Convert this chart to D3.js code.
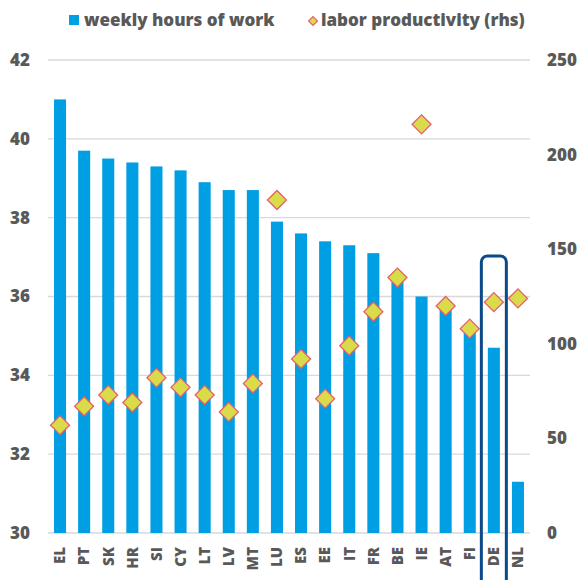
<!DOCTYPE html>
<meta charset="utf-8">
<div id="chart"></div>
<style>
  body { margin: 0; background: #fff; }
</style>
<script src="https://d3js.org/d3.v7.min.js"></script>
<script>

var countries = ["EL","PT","SK","HR","SI","CY","LT","LV","MT","LU","ES","EE","IT","FR","BE","IE","AT","FI","DE","NL"];
var hours = [41.0, 39.7, 39.5, 39.4, 39.3, 39.2, 38.9, 38.7, 38.7, 37.9, 37.6, 37.4, 37.3, 37.1, 36.4, 36.0, 35.8, 35.1, 34.7, 31.3];
var productivity = [57, 67, 73, 69, 82, 77, 73, 64, 79, 176, 92, 71, 99, 117, 135, 216, 120, 108, 122, 124];
var leftTicks = [30, 32, 34, 36, 38, 40, 42];
var rightTicks = [0, 50, 100, 150, 200, 250];
var highlight = "DE";

var width = 581, height = 580;
var svg = d3.select("#chart").append("svg")
    .attr("width", width)
    .attr("height", height);

// shared text style
function label(sel, size) {
  return sel
    .style("font-family", "'Open Sans'")
    .style("font-weight", "800")
    .attr("font-size", size)
    .attr("fill", "#595959");
}

var x = d3.scaleBand()
    .domain(countries)
    .range([48, 530])
    .paddingInner(0.5)
    .paddingOuter(0.25);

var y = d3.scaleLinear().domain([30, 42]).range([533, 60]);
var y2 = d3.scaleLinear().domain([0, 250]).range([533, 60]);

// gridlines
svg.append("g")
  .selectAll("line")
  .data(leftTicks)
  .enter().append("line")
    .attr("x1", 48)
    .attr("x2", 530)
    .attr("y1", function(d) { return y(d); })
    .attr("y2", function(d) { return y(d); })
    .attr("stroke", "#d9d9d9")
    .attr("stroke-width", 1.3);

// left axis labels
svg.append("g")
  .selectAll("text")
  .data(leftTicks)
  .enter().append("text")
    .attr("x", 30)
    .attr("y", function(d) { return y(d); })
    .attr("dy", "0.35em")
    .attr("text-anchor", "end")
    .call(label, 17)
    .text(function(d) { return d; });

// right axis labels
svg.append("g")
  .selectAll("text")
  .data(rightTicks)
  .enter().append("text")
    .attr("x", 547)
    .attr("y", function(d) { return y2(d); })
    .attr("dy", "0.35em")
    .attr("text-anchor", "start")
    .call(label, 17)
    .text(function(d) { return d; });

// bars
svg.append("g")
  .selectAll("rect")
  .data(countries)
  .enter().append("rect")
    .attr("x", function(d) { return x(d); })
    .attr("width", x.bandwidth())
    .attr("y", function(d, i) { return y(hours[i]); })
    .attr("height", function(d, i) { return y(30) - y(hours[i]); })
    .attr("fill", "#009fe3");

// x labels
svg.append("g")
  .selectAll("text")
  .data(countries)
  .enter().append("text")
    .attr("transform", function(d) { return "translate(" + (x(d) + x.bandwidth() / 2) + ",547)rotate(-90)"; })
    .attr("dy", "0.35em")
    .attr("text-anchor", "end")
    .call(label, 15)
    .text(function(d) { return d; });

// diamonds
var diamond = d3.symbol().type(d3.symbolSquare).size(180);
svg.append("g")
  .selectAll("path")
  .data(countries)
  .enter().append("path")
    .attr("d", diamond)
    .attr("transform", function(d, i) { return "translate(" + (x(d) + x.bandwidth() / 2) + "," + y2(productivity[i]) + ")rotate(45)"; })
    .attr("fill", "#d9dc48")
    .attr("stroke", "#e4606e")
    .attr("stroke-width", 1.3);

// highlight box
var hx = x(highlight) + x.bandwidth() / 2;
svg.append("rect")
    .attr("x", hx - 12.5)
    .attr("y", 256)
    .attr("width", 25)
    .attr("height", 340)
    .attr("rx", 6)
    .attr("fill", "none")
    .attr("stroke", "#0b4a8a")
    .attr("stroke-width", 3);

// legend
var legend = svg.append("g");
legend.append("rect")
    .attr("x", 69)
    .attr("y", 15)
    .attr("width", 10)
    .attr("height", 10)
    .attr("fill", "#009fe3");
legend.append("text")
    .attr("x", 84)
    .attr("y", 20)
    .attr("dy", "0.35em")
    .call(label, 17)
    .text("weekly hours of work");
legend.append("path")
    .attr("d", d3.symbol().type(d3.symbolSquare).size(40))
    .attr("transform", "translate(313,21)rotate(45)")
    .attr("fill", "#d9dc48")
    .attr("stroke", "#e4606e")
    .attr("stroke-width", 1.2);
legend.append("text")
    .attr("x", 321)
    .attr("y", 20)
    .attr("dy", "0.35em")
    .call(label, 17)
    .text("labor productivity (rhs)");

</script>
